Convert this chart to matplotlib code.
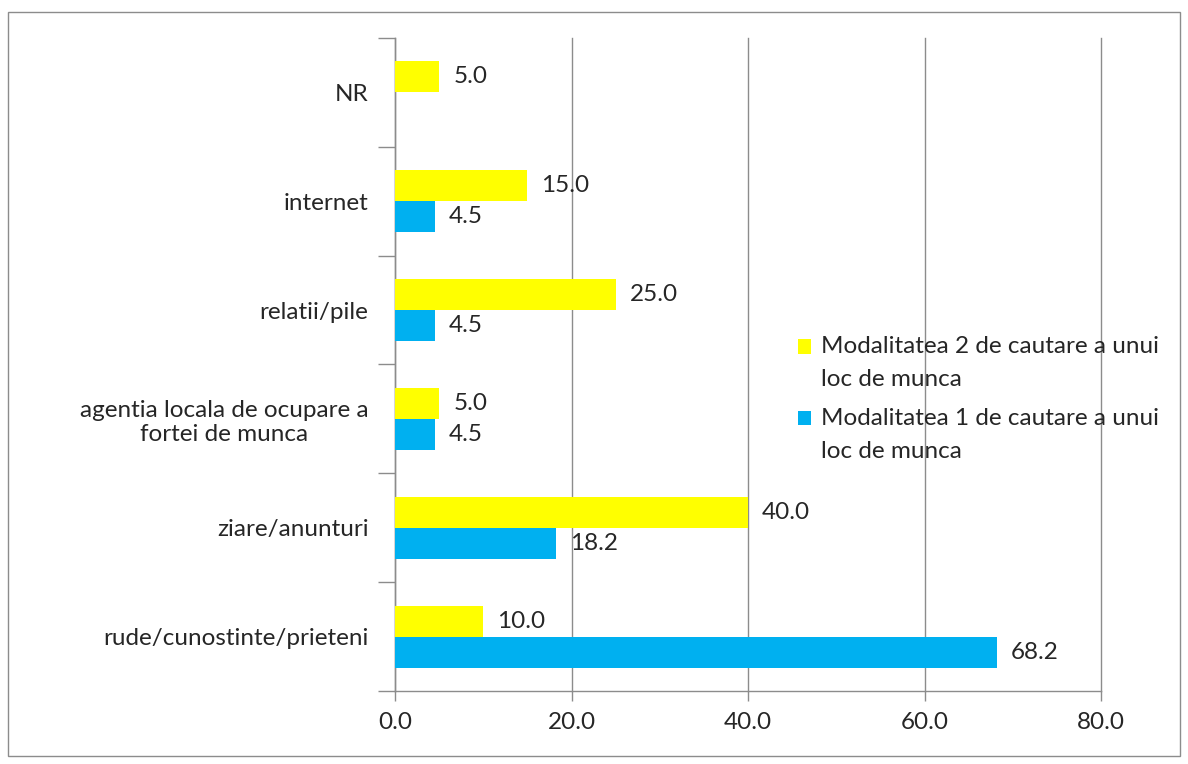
import matplotlib
matplotlib.use("Agg")
import matplotlib.pyplot as plt
from matplotlib.patches import Rectangle
import numpy as np

categories = ["rude/cunostinte/prieteni", "ziare/anunturi",
              "agentia locala de ocupare a\nfortei de munca",
              "relatii/pile", "internet", "NR"]
mod2 = [10.0, 40.0, 5.0, 25.0, 15.0, 5.0]
mod1 = [68.2, 18.2, 4.5, 4.5, 4.5, None]
label2 = "Modalitatea 2 de cautare a unui\nloc de munca"
label1 = "Modalitatea 1 de cautare a unui\nloc de munca"
xticks = [0, 20, 40, 60, 80]

plt.rcParams['font.family'] = ['Lato', 'DejaVu Sans']
YELLOW = "#FFFF00"
BLUE = "#00B0F0"
GRAY = "#8C8C8C"
TXT = "#262626"
FS = 17.5

fig = plt.figure(figsize=(11.88, 7.64), dpi=100)
ax = fig.add_axes([395/1188, 1-691/764, (1101-395)/1188, (691-38)/764])

y = np.arange(len(categories))
h = 0.285
m1 = [v if v is not None else 0 for v in mod1]
b2 = ax.barh(y + h/2, mod2, height=h, color=YELLOW, label=label2, zorder=3)
b1 = ax.barh(y - h/2, m1, height=h, color=BLUE, label=label1, zorder=3)

for yi, v in zip(y, mod2):
    ax.text(v + 1.6, yi + h/2, f"{v:.1f}", va='center', ha='left', fontsize=FS, color=TXT)
for yi, v in zip(y, mod1):
    if v is not None:
        ax.text(v + 1.6, yi - h/2, f"{v:.1f}", va='center', ha='left', fontsize=FS, color=TXT)

ax.set_xlim(0, 80)
ax.set_ylim(-0.5, len(categories) - 0.5)
ax.set_xticks(xticks)
ax.set_xticklabels([f"{t:.1f}" for t in xticks], fontsize=FS, color=TXT)
ax.set_yticks(y)
ax.set_yticklabels(categories, fontsize=FS, color=TXT, multialignment='center')
ax.set_yticks(np.arange(-0.5, len(categories)), minor=True)
ax.tick_params(axis='y', which='major', length=0, pad=19)
ax.tick_params(axis='y', which='minor', length=12, color=GRAY, width=1)
ax.tick_params(axis='x', length=7, color=GRAY, width=1, pad=8)
ax.grid(axis='x', color=GRAY, linewidth=1, zorder=0)
for gl in ax.get_xgridlines():
    gl.set_clip_on(False)
for s in ['top', 'right']:
    ax.spines[s].set_visible(False)
for s in ['left', 'bottom']:
    ax.spines[s].set_color(GRAY)
    ax.spines[s].set_linewidth(1)

leg = fig.legend(handles=[b2, b1], loc='center left', bbox_to_anchor=(788/1188, 1-399/764),
                 frameon=False, fontsize=FS, handlelength=0.55, handleheight=0.55,
                 handletextpad=0.4, labelspacing=0.7, labelcolor=TXT, borderaxespad=0)
for t in leg.get_texts():
    t.set_linespacing(1.75)
for p in leg.legend_handles:
    p.set_y(p.get_y() + 12.0)

fig.patches.append(Rectangle((8/1188, 1-756/764), (1180-8)/1188, (756-12)/764,
                             transform=fig.transFigure, fill=False, edgecolor=GRAY, linewidth=1))

fig.savefig("out.png", dpi=100)
